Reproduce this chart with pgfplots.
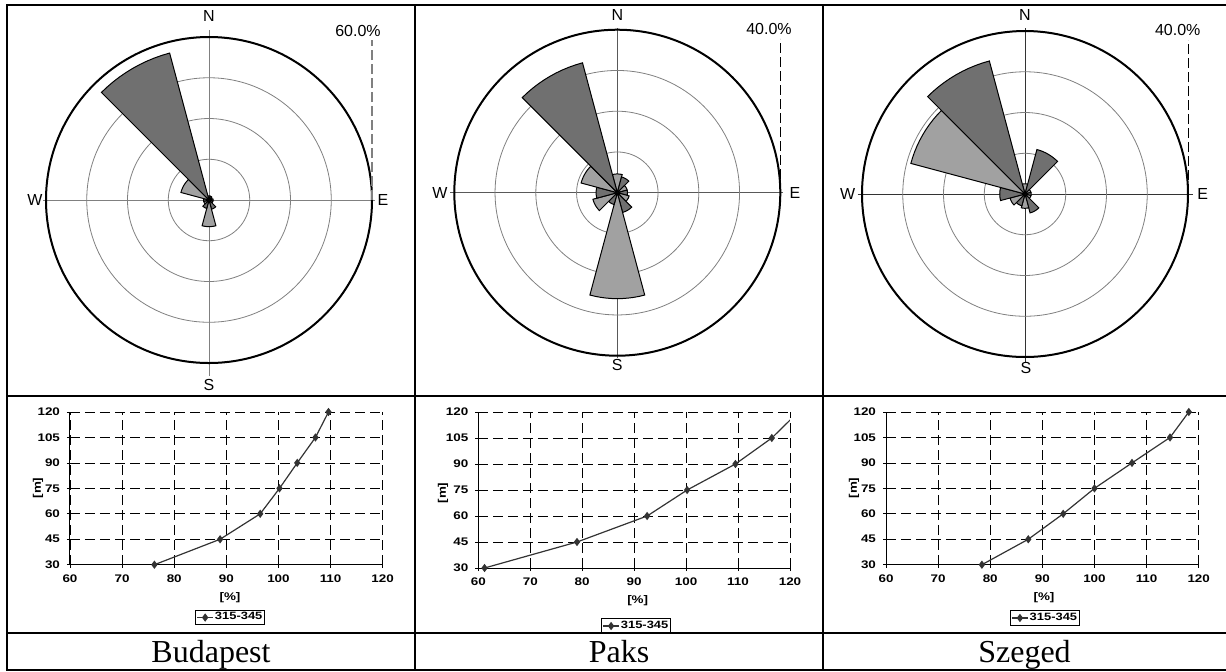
\documentclass[border=0pt]{standalone}
\usepackage{fontspec}
\setmainfont{Liberation Sans}
\newfontfamily\seriffont{Liberation Serif}
\newfontfamily\chartfont[FakeStretch=1.22]{Liberation Sans}
\usepackage{pgfplots}
\pgfplotsset{compat=1.18}
\usepgfplotslibrary{polar}
\definecolor{darkg}{gray}{0.44}
\definecolor{lightg}{gray}{0.63}

% one wind-rose sector: bearing (deg, clockwise from N), value (%), colour
\newcommand\sector[3]{%
  \gdef\pts{(0,0)}%
  \foreach \a in {-15,-12,...,15}{%
    \pgfmathsetmacro\ang{mod(450-#1+\a,360)}%
    \xdef\pts{\pts (\ang,#2)}}%
  \edef\tmp{\noexpand\addplot[draw=black,line width=0.5pt,fill=#3] coordinates {\pts (0,0)};}%
  \tmp}

\pgfplotsset{
  rose/.style={
    scale only axis, width=163pt, height=163pt, anchor=center,
    ymin=0, xtick=\empty, yticklabel style={opacity=0}, major tick length=0pt,
    ymajorgrids, grid style={gray, line width=0.4pt},
    x axis line style={black, line width=1pt},
    y axis line style={draw=none},
    clip=false},
  prof/.style={
    scale only axis, xmin=60, xmax=120, ymin=30, ymax=120,
    xtick={60,70,...,120}, ytick={30,45,...,120},
    axis x line*=bottom, axis y line*=left,
    x axis line style={-}, y axis line style={-},
    axis line style={black, line width=0.5pt},
    grid=major, major grid style={black, line width=0.4pt, dash pattern=on 5pt off 2.5pt},
    tick align=outside, major tick length=1.5pt, tick style={black, line width=0.4pt},
    /pgf/number format/assume math mode=true,
    tick label style={font=\chartfont\bfseries\fontsize{5.5}{5.5}\selectfont},
    legend style={draw=black, line width=0.4pt, inner sep=0.4pt,
      nodes={inner sep=0.6pt},
      font=\chartfont\bfseries\fontsize{5.3}{5.3}\selectfont, anchor=center},
    legend image code/.code={\draw[mark repeat=2,mark phase=2,##1] plot coordinates {(0pt,0pt) (4pt,0pt) (8pt,0pt)};},
  },
  profline/.style={color=black!80, line width=0.6pt, mark=diamond*, mark size=1.6pt, mark options={fill=black!80}},
}
\newcommand\lab[1]{\chartfont\bfseries\fontsize{5.5}{5.5}\selectfont #1}

\begin{document}
\begin{tikzpicture}
\path[use as bounding box] (0,0) rectangle (613pt,-335.5pt);

% spokes
\draw[gray, line width=0.5pt] (21.5pt,-100pt) -- (187.5pt,-100pt) (104.5pt,-15pt) -- (104.5pt,-188pt);
\draw[gray!70!black, line width=0.5pt] (225pt,-96.35pt) -- (391.5pt,-96.35pt) (308.65pt,-14pt) -- (308.65pt,-179pt);
\draw[black!80, line width=0.5pt] (428.85pt,-97pt) -- (596.35pt,-97pt) (512.5pt,-14.15pt) -- (512.5pt,-180.85pt);

% ---------- Budapest rose
\begin{polaraxis}[rose, at={(104.5pt,-100pt)}, ymax=60, ytick={15,30,45,60}]
\sector{0}{1.5}{lightg}
\sector{30}{1.5}{darkg}
\sector{60}{1.2}{lightg}
\sector{90}{1.5}{darkg}
\sector{120}{1.5}{lightg}
\sector{150}{3.5}{darkg}
\sector{180}{9.8}{lightg}
\sector{210}{3.2}{darkg}
\sector{240}{2}{lightg}
\sector{270}{2}{darkg}
\sector{300}{10.7}{lightg}
\sector{330}{56}{darkg}
\draw[gray, line width=0.6pt, dash pattern=on 5pt off 2pt] (axis cs:0,60) -- ++(0,80pt);
\end{polaraxis}

% ---------- Paks rose
\begin{polaraxis}[rose, at={(308.65pt,-96.35pt)}, ymax=40, ytick={10,20,30,40}]
\sector{0}{4.6}{lightg}
\sector{30}{4}{darkg}
\sector{60}{2.5}{lightg}
\sector{90}{2.5}{darkg}
\sector{120}{3}{lightg}
\sector{150}{5}{darkg}
\sector{180}{26}{lightg}
\sector{210}{3}{darkg}
\sector{240}{6.2}{lightg}
\sector{270}{5.2}{darkg}
\sector{300}{9.2}{lightg}
\sector{330}{33}{darkg}
\draw[black, line width=0.5pt, dash pattern=on 5pt off 2pt] (axis cs:0,40) -- ++(0,77pt);
\end{polaraxis}

% ---------- Szeged rose
\begin{polaraxis}[rose, at={(512.5pt,-97pt)}, ymax=40, ytick={10,20,30,40}]
\sector{0}{2.5}{lightg}
\sector{30}{11.3}{darkg}
\sector{60}{1.5}{lightg}
\sector{90}{1.5}{darkg}
\sector{120}{1.5}{lightg}
\sector{150}{4.8}{darkg}
\sector{180}{3.5}{lightg}
\sector{210}{3}{darkg}
\sector{240}{3.8}{lightg}
\sector{270}{6.2}{darkg}
\sector{300}{29}{lightg}
\sector{330}{33.8}{darkg}
\draw[black, line width=0.5pt, dash pattern=on 5pt off 2pt] (axis cs:0,40) -- ++(0,77pt);
\end{polaraxis}

% ---------- profiles
\begin{axis}[prof, at={(35pt,-282.35pt)}, anchor=south west, width=156.35pt, height=76.35pt,
  legend style={at={(0.512,-0.346)}}]
\addplot[profline] coordinates {(76.2,30) (88.8,45) (96.5,60) (100.2,75) (103.6,90) (107.1,105) (109.6,120)};
\addlegendentry{315-345}
\end{axis}

\begin{axis}[prof, at={(239.15pt,-284pt)}, anchor=south west, width=155.85pt, height=78pt,
  legend style={at={(0.506,-0.372)}}]
\addplot[profline] coordinates {(61.2,30) (79.0,45) (92.5,60) (100.2,75) (109.5,90) (116.5,105) (121.6,120)};
\addlegendentry{315-345}
\end{axis}

\begin{axis}[prof, at={(443pt,-282.35pt)}, anchor=south west, width=156.35pt, height=76.35pt,
  legend style={at={(0.508,-0.349)}}]
\addplot[profline] coordinates {(78.4,30) (87.3,45) (94.0,60) (100.0,75) (107.2,90) (114.5,105) (118.1,120)};
\addlegendentry{315-345}
\end{axis}

% ---------- texts
\begin{scope}[font=\fontsize{8}{8}\selectfont]
\node at (104.5pt,-8pt) {N}; \node at (104.5pt,-192.5pt) {S};
\node at (17.5pt,-100pt) {W}; \node at (191.5pt,-100pt) {E};
\node at (308.65pt,-7.5pt) {N}; \node at (308.65pt,-182.5pt) {S};
\node at (220pt,-96.35pt) {W}; \node at (397.5pt,-96.35pt) {E};
\node at (512.5pt,-7.5pt) {N}; \node at (513pt,-184pt) {S};
\node at (423.85pt,-97pt) {W}; \node at (601.35pt,-97pt) {E};
\node at (179pt,-15.5pt) {60.0\%};
\node at (384.5pt,-14.65pt) {40.0\%};
\node at (588.85pt,-15pt) {40.0\%};
\end{scope}

\node[rotate=90] at (19pt,-244pt) {\lab{[m]}};
\node[rotate=90] at (221.5pt,-246.5pt) {\lab{[m]}};
\node[rotate=90] at (427pt,-244pt) {\lab{[m]}};
\node at (115pt,-299pt) {\lab{[\%]}};
\node at (318.85pt,-300.5pt) {\lab{[\%]}};
\node at (522pt,-299pt) {\lab{[\%]}};

\begin{scope}[font=\seriffont\fontsize{16}{16}\selectfont]
\node[anchor=base] at (105.5pt,-331pt) {Budapest};
\node[anchor=base] at (309.5pt,-331pt) {Paks};
\node[anchor=base] at (512.25pt,-331pt) {Szeged};
\end{scope}

% ---------- frame
\draw[line width=1pt] (613pt,-2.5pt) -- (3.5pt,-2.5pt) -- (3.5pt,-334.75pt) -- (613pt,-334.75pt);
\draw[line width=1pt] (207.5pt,-2.5pt) -- (207.5pt,-334.75pt) (411.5pt,-2.5pt) -- (411.5pt,-334.75pt);
\draw[line width=1pt] (3.5pt,-198pt) -- (613pt,-198pt) (3.5pt,-316.5pt) -- (613pt,-316.5pt);
\end{tikzpicture}
\end{document}
